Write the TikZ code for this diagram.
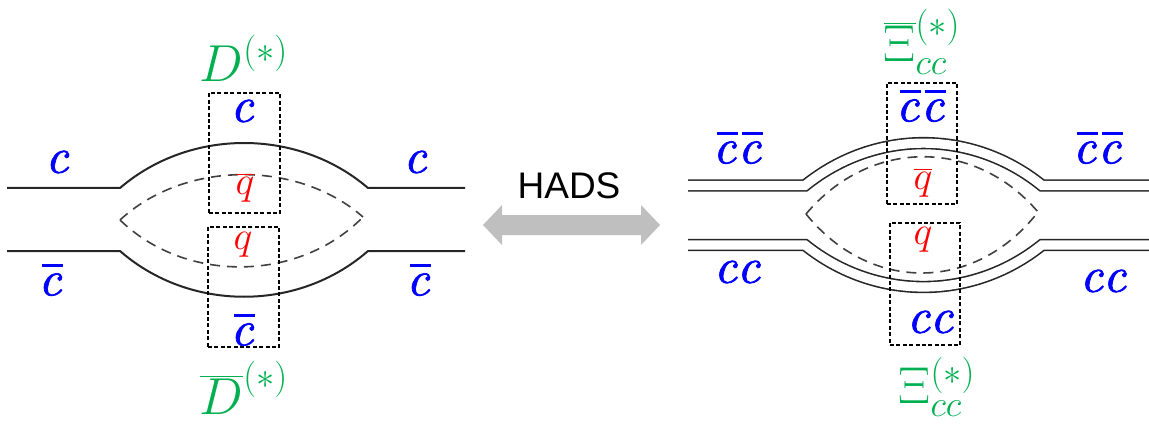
\documentclass[tikz,border=0pt]{standalone}
\usepackage{fix-cm}
\usepackage{fontspec}
\newfontfamily\hadsfont{Liberation Sans}
\newfontface\qcfont[FakeBold=1.4]{lmroman10-italic.otf}
\newcommand\qcl{\hbox{\qcfont c}}
\newcommand\qcbar{\hbox{\qcfont\rlap{\kern0.07em\raisebox{0.57em}{\rule{0.42em}{0.055em}}}c}}
\definecolor{qblue}{RGB}{0,0,255}
\definecolor{qred}{RGB}{255,0,0}
\definecolor{qgreen}{RGB}{0,176,80}
\definecolor{arrowgray}{RGB}{191,191,191}
\begin{document}
\begin{tikzpicture}[x=0.5pt,y=-0.5pt,
  solidq/.style={line width=1pt, black!85},
  dashq/.style={line width=0.8pt, black!75, dash pattern=on 5pt off 3.5pt},
  boxq/.style={draw, line width=0.7pt, dash pattern=on 2pt off 1.2pt, inner sep=0pt},
  dbl/.style={line width=0.8pt, double=white, double distance=4.6pt, draw=black!85},
  lab/.style={text=qblue, font=\fontsize{25}{30}\selectfont, inner sep=0pt},
  qlab/.style={text=qred, font=\fontsize{20}{24}\selectfont, inner sep=0pt},
  had/.style={text=qgreen, font=\fontsize{26}{32}\selectfont, inner sep=0pt}]
\useasboundingbox (0,0) rectangle (1149,427);

% ---------- left diagram ----------
\coordinate (lta) at (7,188);   \coordinate (ltb) at (120,188);
\coordinate (ltc) at (368,188); \coordinate (ltd) at (465,188);
\coordinate (lba) at (7,251);   \coordinate (lbb) at (120,251);
\coordinate (lbc) at (368,251); \coordinate (lbd) at (465,251);
\coordinate (ldl) at (120,220); \coordinate (ldr) at (363,217);

\draw[solidq] (lta) -- (ltb) .. controls (190,128) and (298,128) .. (ltc) -- (ltd);
\draw[solidq] (lba) -- (lbb) .. controls (190,312) and (298,312) .. (lbc) -- (lbd);
\draw[dashq] (ldl) .. controls (185,160) and (298,160) .. (ldr);
\draw[dashq] (ldl) .. controls (185,283) and (298,283) .. (ldr);

\node[boxq, minimum width=35.5pt, minimum height=60pt] (lbox1) at (244.5,153) {};
\node[boxq, minimum width=35.5pt, minimum height=60pt] (lbox2) at (243.5,287) {};

\node[lab] (lc1) at (57,162) {\qcl};
\node[lab] (lcb1) at (50,280) {\qcbar};
\node[lab] (lc2) at (415,162) {\qcl};
\node[lab] (lcb2) at (418,280) {\qcbar};
\node[lab] (lc3) at (242,111) {\qcl};
\node[qlab] (lqb) at (245,188) {$\overline{q}$};
\node[qlab] (lq) at (243,245) {$q$};
\node[lab] (lcb3) at (242,330) {\qcbar};
\node[had] (dmes) at (244,58) {$D^{(*)}$};
\node[had] (dbmes) at (244,388) {$\overline{D}^{(*)}$};

% ---------- HADS arrow ----------
\fill[arrowgray] (483,225) -- (502,205) -- (502,215) -- (641,215) -- (641,205)
  -- (660,225) -- (641,245) -- (641,235) -- (502,235) -- (502,245) -- cycle;
\node[font=\hadsfont\fontsize{18.5}{22}\selectfont, inner sep=0pt] (hads) at (569,186) {HADS};

% ---------- right diagram ----------
\coordinate (rta) at (688,185.5);  \coordinate (rtb) at (805,185.5);
\coordinate (rtc) at (1042,185.5); \coordinate (rtd) at (1149,185.5);
\coordinate (rba) at (688,245);    \coordinate (rbb) at (805,245);
\coordinate (rbc) at (1042,245);   \coordinate (rbd) at (1149,245);
\coordinate (rdl) at (806,214);    \coordinate (rdr) at (1038,212);

\draw[dbl] (rta) -- (rtb) .. controls (875,129) and (972,129) .. (rtc) -- (rtd);
\draw[dbl] (rba) -- (rbb) .. controls (875,301) and (972,301) .. (rbc) -- (rbd);
\draw[dashq] (rdl) .. controls (870,138) and (975,138) .. (rdr);
\draw[dashq] (rdl) .. controls (870,293) and (975,293) .. (rdr);

\node[boxq, minimum width=35pt, minimum height=60.5pt] (rbox1) at (922,143.5) {};
\node[boxq, minimum width=35pt, minimum height=61pt] (rbox2) at (925,284) {};

\node[lab] (rcc1) at (737,148) {\qcbar\kern0.04em\qcbar};
\node[lab] (rcc2) at (1097,148) {\qcbar\kern0.04em\qcbar};
\node[lab] (rc1) at (737,272) {\qcl\qcl};
\node[lab] (rc2) at (1103,281) {\qcl\qcl};
\node[lab] (rcc3) at (920,106) {\qcbar\kern0.04em\qcbar};
\node[qlab] (rqb) at (923,183) {$\overline{q}$};
\node[qlab] (rq) at (923,240) {$q$};
\node[lab] (rc3) at (930,322) {\qcl\qcl};
\node[had] (xib) at (922,42) {$\overline{\Xi}_{cc}^{(*)}$};
\node[had] (xi) at (937,387) {$\Xi_{cc}^{(*)}$};
\end{tikzpicture}
\end{document}
